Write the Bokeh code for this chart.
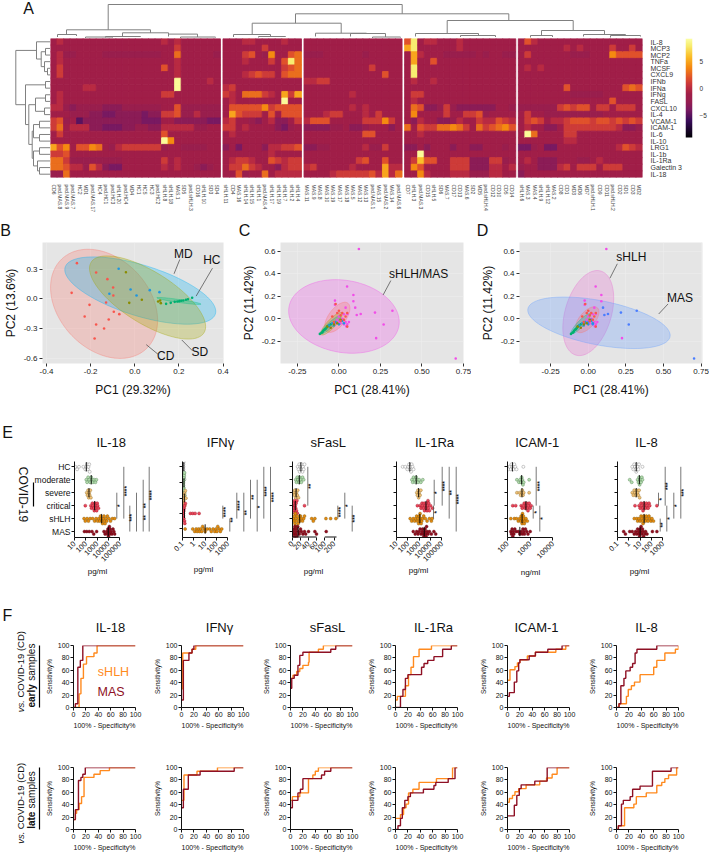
import numpy as np
from bokeh.plotting import figure
from bokeh.layouts import row, column
from bokeh.models import (Range1d, FixedTicker, LinearColorMapper, LinearScale)
from bokeh.core.properties import value
from bokeh.embed import file_html
from bokeh.resources import INLINE

FONT = "Liberation Sans"

# ---------------------------------------------------------------- A heatmap data
row_names = ["IL-8","MCP3","MCP2","TNFa","MCSF","CXCL9","IFNb","IFNa","IFNg","FASL","CXCL10","IL-4","VCAM-1",
             "ICAM-1","IL-6","IL-10","LRG1","IL-1b","IL-1Ra","Galectin 3","IL-18"]
cols_b1 = ["CD6","ped.MAS.8","ped.MAS.9","ped.MAS.7","HC2","MD1","ped.MAS.17","HC4","ped.HC1","ped.HC3","sHLH.20","ped.HC4","MD4",
           "HC1","HC5","HC3","ped.HC2","sHLH.8","sHLH.18","MAS.1","SD5","ped.sHLH.3","CD16","sHLH.10","SD3","SD4"]
cols_b2 = ["sHLH.11","CD4","MAS.16","sHLH.14","sHLH.15","sHLH.1","ped.MAS.4","sHLH.17","sHLH.19","sHLH.7","sHLH.2","sHLH.4"]
cols_b3 = ["MAS.11","MAS.9","MAS.8","MAS.10","MAS.19","MAS.17","MAS.18","MAS.5","MAS.12","MAS.13","ped.MAS.1","MAS.15","ped.MAS.2","MAS.14","ped.MAS.6"]
cols_b4 = ["CD7","sHLH.3","ped.MAS.3","CD15","sHLH.5","SD6","MAS.7","CD17","CD13","MAS.6","SD2","MD5","ped.sHLH.4","CD12","CD10","CD5","CD14"]
cols_b5 = ["sHLH.6","MAS.3","MAS.4","sHLH.9","sHLH.12","MAS.2","CD8","CD1","MD3","MD6","MD7","ped.sHLH.1","CD9","CD11","ped.sHLH.2","CD2","SD1","CD3","MD2"]
heat_base = -1
heat_b1 = {0:{1:0,17:0,19:0},1:{19:1},2:{1:0,2:-2,3:-2,8:-2,9:-2,10:-2,11:-2,12:-2,13:-2,14:-2,15:-2,16:-2,19:3,25:-2},
 3:{1:0,19:0},4:{1:1,17:2,19:0},5:{1:1,19:0},6:{19:9,24:0},7:{5:0,6:0,19:9},8:{1:0,17:1,18:1},9:{1:0},
 10:{0:0,1:0,2:-2,3:-3,4:-2,5:-2,6:-2,7:-2,8:-3,9:-3,10:-3,11:-2,12:-2,13:-2,14:-2,15:-2,16:-2,19:2,20:-2,21:-2,22:-2,23:-2,24:-2,25:-2},
 11:{3:-2,4:-2,5:-2,6:-3,7:-3,8:-4,9:-4,10:-3,11:-3,12:-3,13:-3,14:-4,15:-3,16:-3,17:1,18:1,19:2,20:-2,21:-2,22:0,23:-2,24:-2,25:-2},
 12:{0:1,1:2,2:-2,4:-5,5:-3,6:-3,7:-3,8:-3,9:-3,10:-3,11:-3,12:-3,13:-3,14:-4,15:-4,16:-4,19:-3,20:-3,21:-3,22:-3,23:-3,24:-4,25:-4},
 13:{0:1,1:3,3:0,4:0,5:0,6:-3,7:-3,8:-4,9:-4,10:-4,11:-3,12:-3,13:-2,14:-2,15:-3,16:-3,17:0,18:0,19:0,20:0,21:0,22:-2,23:-2},
 14:{1:1,17:2},15:{17:9,18:4},
 16:{0:5,1:2,2:4,4:2,5:2,6:4,7:3,9:-2,10:0,11:1,12:1,13:1,14:1,15:1,16:1,17:-2,20:-2,21:-2,22:-2,23:-2},
 17:{0:1,1:1,2:2},18:{0:3,1:3,2:1,3:-2,4:-2,5:-2,6:-2,7:-2,8:-2,9:-2,10:-2,17:1,19:0},
 19:{0:3,1:3,2:2,3:0,4:0,5:-2,6:2,7:0,8:-3,9:-4,10:-4,17:0,19:0,22:-2,23:-3,24:-2},
 20:{0:-2,1:-2,2:3}}
heat_b2 = {0:{3:0,4:0,9:0},1:{6:1},2:{3:1,4:2,6:-2,7:4,10:2,11:3},3:{3:0,7:1,9:2,10:8,11:3},4:{9:1,10:2,11:3},
 5:{3:0,4:1,5:2,6:1,7:1,9:2,10:3,11:3},7:{0:0,1:1},8:{0:1,1:0,3:3,4:3,5:3,6:1,7:0,9:5,10:1,11:5},9:{1:0,9:9},
 10:{1:2,2:2,3:2,4:2,5:2,6:4,7:1,8:2,9:2,10:2,11:2},11:{1:5,2:2,3:1,4:1,5:1,7:2,9:2,10:2,11:2},
 12:{0:0,1:1,4:-2,5:-3,7:0,8:-3,9:-3,11:1},13:{0:1,1:1,3:0,8:-3,9:-4,10:-2},14:{1:0},
 16:{0:-3,2:-4,6:-3,7:0,8:0,9:1,10:1,11:2},17:{7:0},18:{1:0,2:1,3:1,4:0,7:2,8:1,9:0,10:1,11:1},
 19:{1:1,2:1,3:3,4:1,5:0,8:-3,9:0,10:1,11:1},20:{2:2,3:-2,6:3,8:0,9:0,10:0,11:0}}
heat_b3 = {2:{0:-2,1:-2,2:-2,9:-2},4:{10:1},5:{12:2},6:{0:0,1:0,2:1,3:1},8:{7:0},10:{7:0,9:0},
 11:{3:0,4:1,5:1,9:0,11:1},12:{0:0,1:2,2:2,3:2,9:1,10:1,11:1,12:4,13:1},13:{0:-3,1:-3,2:-3,3:-3,4:-2,5:-2,7:-3,8:-3,9:-2,13:-3},
 14:{9:2,10:2},16:{0:-3,1:-3,2:-2,3:-2,9:0,10:-2,11:-2,12:1},18:{8:1,9:2,12:2},
 19:{0:0,1:1,7:0,12:5,13:0,14:0},20:{4:0,5:1,6:1,7:1,8:1,9:1,10:2,11:0,12:5,13:0,14:3}}
heat_b4 = {0:{0:2,1:8,3:0,4:0,8:0},1:{0:5,1:8,8:0},2:{1:5,2:0,6:-2,7:-2,8:-2,9:-2,10:-2,12:-2,15:-2,16:-2},3:{1:5,4:2},4:{1:8},5:{1:8},
 6:{1:0,4:0},8:{1:1,2:1},9:{1:0},10:{1:3,2:2,3:-3,4:-3,5:-2,6:1,7:-2,8:-3,9:-3,10:-3,11:-3,12:-3,13:-3,16:-2},
 11:{1:4,6:1,9:1,10:1,11:2,12:-2},12:{1:-3,2:0,5:-3,6:-3,7:-2,8:0,11:1,12:0,13:0,14:2,15:1,16:0},
 13:{0:3,2:2,3:1,4:1,5:3,6:3,7:4,8:3,9:1,11:3,12:1,13:2,14:3,15:4,16:2},14:{2:0},16:{0:-3,1:-3,3:-3,7:-3,10:-3,11:-3,15:-2},
 17:{2:9},18:{1:1,2:6,3:2,4:2,7:1,8:1,9:1,10:-3,11:-3,12:-3,13:1,14:1,15:-2},
 19:{1:4,2:2,7:1,8:1,9:1,10:-3,11:-3,12:-3,13:0,14:0,16:0},20:{2:4,3:0,7:0,8:0,9:0,10:-2,11:-2,12:-2,13:0,14:0}}
heat_b5 = {0:{1:2,2:0},1:{7:0,9:0,14:1,17:1},2:{1:1,8:-2,9:-2,10:-2,14:4,15:2,16:2,17:2,18:2},4:{1:0,3:0},7:{7:2,16:2,17:3,18:2},
 8:{8:-2,9:-2,10:-2,11:-2,12:-2},9:{14:2},10:{0:-2,1:-2,2:-2,3:-2,4:-2,5:-2,6:1,7:2,8:1,9:2,10:2,12:1,13:1,15:1,16:1,17:1},
 11:{1:1,4:-2,5:-2,6:-2,7:-2,8:-2,9:-2,10:-2,11:-2,12:-2},
 12:{1:1,2:2,3:1,5:0,6:0,7:1,8:2,9:2,10:2,11:1,12:2,13:2,14:1,15:2,16:1,17:2,18:1},
 13:{1:0,4:-3,5:-3,7:1,8:1,9:1,10:1,11:1,12:1,13:1,14:1,15:0,16:-3,17:-3,18:-2},14:{1:9,2:3,7:1,8:1},15:{7:0,8:0},
 16:{0:-4,1:-4,2:-2,4:-4,5:-4,15:0,16:2,17:1,18:0},18:{1:0,3:-3,4:-3,5:-3,9:-2,10:-2,12:0},
 19:{0:-2,3:-3,4:-3,5:-3,6:0,7:1,9:1,10:1,11:1,13:1,14:1,15:1},20:{0:-3}}

# dendrograms: [left x, right x, left child depth, right child depth, join depth]
dendro_top = [(107.7,401.7,29.3,13.3,4),(295,508.3,22.7,20,13.3),(251.7,340.7,34,32.7,22.7),(446.7,572.7,33,30,20),
 (541,604,35,34,30),(66,150,34,32.3,29.3),(57,76,36.5,35.5,34),(122,168,36,33.6,32.3),(105,140,37,36.5,36),(168,197,36,36.5,33.6),
 (233,270,36.5,36,34),(258,285,37,36.5,36),(315,366,36,33,32.7),(350,385,36,36.5,33),(415,478,36,35,33),(460,495,36.5,36.5,35),
 (530,552,37,36.5,35),(583,625,36,35,34),(610,640,37,36,35),(85,112,37.5,37,36.5),(180,215,37.5,37,36.5),(372,400,37.5,37,36.5)]
# left tree: [x, y top, y bottom, child x top, child x bottom]
dendro_left = [(47,4,5,50,50),(44,3,4.5,50,47),(45,1,2,50,50),(40.7,1.5,3.75,45,44),(36,0,2.6,50,40.7),(45,6,7,50,50),
 (45,8,9,50,50),(44,10,11,50,50),(35,8.5,10.5,45,44),(39,12,13,50,50),(39,14,15,50,50),(33,12.5,14.5,39,39),(39,16,17,50,50),
 (39,19,20,50,50),(37,18,19.5,50,39),(33,16.5,18.75,39,37),(31.7,13.5,17.6,33,33),(28.3,9.5,15.5,35,31.7),(25,6.5,12.5,45,28.3),(15.3,1.3,9.5,36,25)]

# ---------------------------------------------------------------- B-D PCA data
# ellipse: (centre x, centre y, half width, half height, correlation, colour)
ell_b = [(-0.139,-0.049,0.2425,0.55,-0.3,"#F8766D"),(0.025,0.085,0.342,0.339,-0.62,"#00B0F6"),
         (0.058,0.015,0.263,0.419,-0.7,"#A3A500"),(0.2,-0.02,0.1,0.035,-0.9,"#00BF7D")]
ell_c = [(0.03,0.02,0.333,0.327,-0.15,"#F14EE8"),(-0.01,0.012,0.076,0.134,0.6,"#F8766D"),
         (-0.045,-0.045,0.065,0.1,0.85,"#A3A500"),(-0.05,-0.054,0.06,0.08,0.92,"#00BF7D")]
ell_d = [(0.0,0.05,0.169,0.378,0.35,"#E76BD0"),(0.071,-0.036,0.473,0.229,-0.49,"#619CFF"),
         (-0.007,-0.009,0.078,0.115,0.6,"#F8766D"),(-0.05,-0.045,0.065,0.09,0.9,"#00BF7D")]
b_cd_x = [-0.262,-0.175,-0.124,-0.098,-0.097,-0.286,-0.205,-0.13,-0.227,-0.175,-0.118,-0.139,-0.182,-0.095,-0.07]
b_cd_y = [0.361,0.267,0.2,0.116,0.035,0.062,-0.059,-0.035,-0.176,-0.257,-0.206,-0.297,-0.398,-0.129,-0.153]
b_md_x = [-0.073,-0.115,-0.019,0.008,0.068,0.112]
b_md_y = [0.304,0.052,0.096,0.035,0.089,0.069]
b_sd_x = [-0.04,-0.025,0.032,0.106,0.115,0.118]
b_sd_y = [0.27,-0.039,-0.008,-0.025,-0.015,-0.042]
b_hc_x = [0.142,0.163,0.181,0.193,0.202,0.211,0.22,0.232,0.241,0.26]
b_hc_y = [-0.049,-0.039,-0.029,-0.025,-0.022,-0.018,-0.015,-0.008,-0.002,0.012]
shlh_x = [0.12,0.049,0.087,0.087,-0.024,-0.024,0.04,0.051,0.044,0.224,-0.05,-0.03,-0.02,-0.01,0.0,0.01,0.02,0.03,0.04,0.05,0.06]
shlh_y = [0.619,0.286,0.211,0.155,0.161,0.125,0.098,0.042,-0.068,-0.173,-0.08,-0.05,-0.03,-0.01,0.02,-0.04,0.0,0.04,-0.03,-0.05,-0.03]
mas_x = [0.098,0.107,0.131,0.217,0.322,0.269,0.703,-0.02,0.0,0.02,0.03]
mas_y = [0.098,0.033,0.042,0.054,0.071,-0.051,-0.354,-0.04,-0.03,-0.01,-0.05]
core_hc_x = [-0.115,-0.105,-0.1,-0.095,-0.09,-0.085,-0.08,-0.075,-0.07,-0.065,-0.06,-0.05]
core_hc_y = [-0.135,-0.125,-0.12,-0.11,-0.1,-0.095,-0.09,-0.08,-0.07,-0.065,-0.06,-0.05]
core_md_x = [-0.06,-0.04,-0.03,-0.02,0.0,0.02,0.03]
core_md_y = [-0.06,-0.04,-0.06,-0.03,-0.05,-0.02,-0.04]
core_sd_x = [-0.07,-0.05,-0.03,-0.01,0.01]
core_sd_y = [-0.07,-0.08,-0.05,-0.04,-0.01]
core_cd_x = [-0.04,-0.02,-0.01,0.0,0.01,0.02,0.03,0.04,0.05,0.05,0.01,-0.03]
core_cd_y = [0.02,0.13,0.05,0.07,0.03,0.05,-0.01,0.02,0.05,-0.07,-0.02,-0.03]

# ---------------------------------------------------------------- E swarm data (one list per group)
groups = ["HC","moderate","severe","critical","sHLH","MAS"]
il18 = [[12,17,25,60,90,110,130,150,170,200,220],[110,130,160,200,240,300,350,420,550,700,850],[120,140,160,180,200,220,250,280],
 [90,280,320,380,430,500,560,640,720,800,900,1000,1100,1300],
 [70,90,130,170,240,400,600,800,1100,1400,1700,2000,2300,2700,3000,3500,4000,4500,5000,6000,7000,8000,11000,15000,22000,35000],
 [75,120,200,350,500,900,4000,5000,7000,8000,9000,10000,11000,12000,13000,14000,15000,17000,20000,25000,30000,35000]]
ifng = [[0.12,0.12,0.13,0.13,0.14,0.14,0.15,0.15,0.12,0.13],[0.12,0.13,0.13,0.14,0.14,0.15,0.15,0.16,0.12,0.13],
 [0.12,0.13,0.14,0.15,0.16,0.18,0.2,0.14],[0.12,0.12,0.13,0.13,0.14,0.15,0.15,0.16,0.18,0.5,0.8,1.3,2.9],
 [0.17,0.8,1.2,1.6,2,2.6,3.2,4,5,6,8,10,15,25,35,50,70,90,110,130,170,220,290]]
sfasl = [[13,15,17,18,20,21,23,25,26,28,30],[8,10,12,14,16,18,20,22,25,28],[4,5,6,8,10,12,13,15],[1,2,3,4,5,6,7,8,9,10,11,12,30],
 [3,4,5,6,7,8,9,10,12,14,16,18,20,22,25,28,30,48,52,56,112,162,218],
 [2,3,4,5,6,7,8,9,10,11,13,15,17,20,22,26,30,33,40,56,60,115]]
il1ra = [[35,60,90,110,130,150,170,190,220,260,320],[230,270,320,400,480,550,650,800,1000,1400,2100],[620,700,800,900,1000,1200,1400],
 [700,1200,1500,1800,2000,2400,2800,3000,3500,4000,4500,5000,5500,6000,6500,7000,8000,10000,15000],
 [160,220,300,400,500,600,700,800,900,1000,1100,1200,1300,1500,1700,2000,2500,3500,5000,8000,12000,14000],
 [300,450,600,800,1000,1200,1500,1800,2000,2300,2600,3000,3300,3700,4000,4500,5000,6000,8000,12000,20000,29000]]
icam = [[100,110,125,140,150,165,180,200,220,250,500],[260,320,360,400,420,450,480,520,900],[260,340,380,420,450,480,520,900],
 [170,230,400,450,500,550,600,650,700,750,800,850,900,1000,1100],[140,200,250,300,340,380,400,420,440,460,480,500,520,550,600,650,750],
 [140,150,160,170,180,190,210,240,300,350,400,450,480,520,560,620,700,800,1000]]
il8 = [[2,2.5,3,3.5,4,4.5,5,6,7,8,16],[1.2,1.8,6,7,8,9,10,12,14,16],[2,2.5,3,3.5,4,5,6,7,8,9],
 [3.5,8,10,12,14,16,18,20,25,30,35,40,50,60,70,300],[3,5,6,8,10,12,14,16,18,20,25,30,35,40,50,60,70,90,110,150],
 [0.35,0.5,1.2,2,3,4,5,6,7,8,9,10,11,12,14,16,18,20,25,30,40,120,300]]
group_fill = ["#FFFFFF","#B5DDB0","#F2C27B","#E8475B","#E8890C","#8E0F1F"]
group_line = ["#777777","#4A7A4A","#8A6A20","#A01020","#7A5A10","#6A0A15"]
# brackets: (px right of the axis, from group, to group); stars: (px right of the axis, group position, text)
br_il18 = [(42.3,2,4),(49.3,0,4),(55.3,3,5),(62,2,5),(68.7,1,5),(74.7,0,5)]
st_il18 = [(45,3,"*"),(52,1.88,"****"),(57.3,3.94,"***"),(70.5,3,"**"),(70.5,3.94,"**"),(77,2.2,"****")]
br_ifng = [(40.3,3,4),(47.3,4,5),(54.3,2,4),(61.3,2,5),(68,1,4),(74.7,1,5),(81.3,0,4),(88,0,5)]
st_ifng = [(43,3.5,"****"),(50,4.1,"**"),(57,3,"****"),(64,3.55,"**"),(71,2.35,"**"),(77.4,3.1,"*"),(84,1.9,"****"),(90.7,2.35,"****")]
br_sfasl = [(15.3,0,3),(45.3,3,4),(52.3,2,4),(59.7,3,5)]
st_sfasl = [(18,1.5,"**"),(48,3.5,"****"),(55,3,"*"),(62,4,"***")]
br_il1ra = [(37.7,1,3),(37,3,4),(45.7,0,3),(52.7,0,4),(59.7,0,5)]
st_il1ra = [(40,2,"*"),(39.5,3.5,"*"),(48.2,1.5,"****"),(55.2,2,"**"),(62,2.5,"****")]
br_icam = [(25.7,3,4),(28.7,0,3),(32.3,3,5)]
st_icam = [(28.5,3.5,"*"),(32,1.5,"****"),(35,4,"*")]
br_il8 = [(41,2,3),(42.7,4,5),(47.7,0,3),(49.3,3,5),(56.3,2,4),(63.3,0,4)]
st_il8 = [(43.5,2.5,"*"),(45.2,4.5,"**"),(50.2,1.5,"***"),(51.8,4,"*"),(58.8,3,"*"),(65.8,2,"***")]

# ---------------------------------------------------------------- F ROC data (x where the curve rises, new level)
panel_names = ["IL-18","IFN\u03b3","sFasL","IL-1Ra","ICAM-1","IL-8"]
roc_early_x_shlh = [[0,9,12,16,21,33,38,100],[0,2,17,23,100],[0,4,10,15,20,29,30,45,53,100],[0,3,16,21,25,29,38,58,100],
 [0,4,12,16,20,32,45,78,94,100],[0,4,16,19,24,29,38,60,65,78,95,100]]
roc_early_y_shlh = [[0,22,47,70,82,88,100,100],[30,88,94,100,100],[47,52,58,63,68,73,89,94,100,100],[12,18,35,53,65,82,94,100,100],
 [44,61,66,72,77,83,89,94,100,100],[0,6,18,29,35,41,53,65,76,88,94,100]]
roc_early_x_mas = [[0,3,7,11,15,100],[0,3,12,17,20,100],[0,2,6,12,15,20,65,73,100],[0,8,12,16,20,42,46,52,62,76,90,100],
 [0,3,11,15,18,20,35,45,65,88,100],[0,4,7,12,15,22,26,30,33,65,100]]
roc_early_y_mas = [[0,6,65,76,100,100],[12,76,88,94,100,100],[31,47,52,68,84,89,94,100,100],[0,18,29,47,53,65,71,76,82,94,100,100],
 [18,24,41,59,72,77,83,89,94,100,100],[0,6,35,47,59,65,71,88,94,100,100]]
roc_late_x_shlh = [[0,3,5,9,13,17,33,43,58,100],[0,4,25,58,100],[0,3,15,29,36,40,45,100],[0,8,13,17,21,28,38,66,92,100],
 [0,3,8,12,18,30,52,63,72,80,100],[0,3,13,28,32,48,65,73,78,84,97,100]]
roc_late_y_shlh = [[16,26,32,42,53,84,89,95,100,100],[47,88,94,100,100],[47,53,59,82,88,94,100,100],[18,24,35,41,59,65,76,82,100,100],
 [44,50,55,61,66,72,78,83,89,100,100],[0,6,35,41,53,59,71,76,82,88,100,100]]
roc_late_x_mas = [[0,3,8,12,15,19,100],[0,3,11,30,85,100],[0,3,12,16,20,50,55,65,100],[0,4,8,11,15,20,24,45,62,65,85,96,100],
 [0,11,15,19,22,44,64,100],[0,3,8,11,22,26,38,58,88,100]]
roc_late_y_mas = [[16,32,79,84,89,100,100],[35,65,88,94,100,100],[35,47,59,65,82,88,94,100,100],[0,6,18,35,47,53,59,65,71,76,82,100,100],
 [22,39,55,66,72,78,100,100],[0,6,41,47,53,65,70,94,100,100]]
ORANGE, DARKRED = "#FF8A1E", "#8E1024"

# ---------------------------------------------------------------- helpers
def make(w, h, left, right, top, bottom, **kw):
    p = figure(width=w, height=h, output_backend="svg", toolbar_location=None, min_border_left=left, min_border_right=right,
               min_border_top=top, min_border_bottom=bottom, background_fill_color="white", border_fill_color="white", **kw)
    p.outline_line_color = None
    p.xgrid.visible = False
    p.ygrid.visible = False
    return p

# a transparent sheet laid over the whole page carries the texts that sit outside the plot frames
ov = make(709, 857, 0, 0, 0, 0, x_range=Range1d(0, 709), y_range=Range1d(857, 0), x_axis_location=None, y_axis_location=None)
ov.background_fill_color = None
ov.border_fill_color = None

def lab(x, y, text, size, color="#111111", align="center", angle=0, style="normal"):
    ov.text([x], [y], text=[text], text_font=value(FONT), text_font_size=f"{size}px", text_color=color, text_align=align,
            text_baseline="middle", angle=angle, text_font_style=style)

def vbar(x, y0, y1):
    ov.line([x, x], [y0, y1], line_color="black", line_width=1.2)

# ---------------------------------------------------------------- A
colw, gap = 20, 8
blocks = [cols_b1, cols_b2, cols_b3, cols_b4, cols_b5]
hblocks = [heat_b1, heat_b2, heat_b3, heat_b4, heat_b5]
xs, ys, vs, tick_pos, tick_txt = [], [], [], [], []
off = 0
for names, sparse in zip(blocks, hblocks):
    for c, nm in enumerate(names):
        cx = off + c * colw + colw // 2
        tick_pos.append(cx)
        tick_txt.append(nm)
        for r in range(len(row_names)):
            xs.append(cx); ys.append(r); vs.append(sparse.get(r, {}).get(c, heat_base))
    off += len(names) * colw + gap
heat_w = off - gap

low, high = -9.1, 9.3
stops_v = [-9.1, -6, -4, -2.5, -1, 0.5, 2, 4, 6, 8, 9.3]
stops_c = ["#000004", "#3A0C5A", "#7A1A62", "#961E50", "#A11F48", "#C4313F", "#E0512C", "#F58A10", "#FBBF2A", "#F8EE70", "#FCFFA4"]
rgb = np.array([[int(c[i:i + 2], 16) for i in (1, 3, 5)] for c in stops_c])
grid = np.linspace(low, high, 256)
palette = ["#%02x%02x%02x" % tuple(int(np.interp(g, stops_v, rgb[:, k])) for k in range(3)) for g in grid]
mapper = LinearColorMapper(palette=palette, low=low, high=high)

pt = make(709, 38, 50, 61, 0, 0, x_range=Range1d(50, 648), y_range=Range1d(38, 0), x_axis_location=None, y_axis_location=None)
for xl, xr, yl, yr, y in dendro_top:
    pt.line([xl, xl, xr, xr], [yl, y, y, yr], line_color="#808080", line_width=1)
lab(28, 8, "A", 16)

pl = make(50, 177, 0, 0, 0, 38, x_range=Range1d(0, 50), y_range=Range1d(20.5, -0.5), x_axis_location=None, y_axis_location=None)
for x, y0, y1, cx0, cx1 in dendro_left:
    pl.line([cx0, x, x, cx1], [y0, y0, y1, y1], line_color="#808080", line_width=1)

ph = make(635, 177, 0, 37, 0, 38, x_range=Range1d(0, heat_w), y_range=Range1d(20.5, -0.5), x_axis_location="below", y_axis_location="right")
src = dict(x=xs, y=ys, v=vs)
ph.rect("x", "y", width=colw, height=1, source=src, fill_color={"field": "v", "transform": mapper},
        line_color={"field": "v", "transform": mapper}, line_width=0.9)
ax = ph.xaxis[0]
ax.ticker = FixedTicker(ticks=tick_pos)
ax.major_label_overrides = dict(zip(tick_pos, tick_txt))
ax.major_label_orientation = -np.pi / 2
ax.major_label_text_font = FONT
ax.major_label_text_font_size = "5px"
ax.major_label_text_color = "#444444"
ax.major_label_standoff = 1
ax.major_tick_line_color = None
ax.minor_tick_line_color = None
ax.axis_line_color = None
ay = ph.yaxis[0]
ay.ticker = FixedTicker(ticks=list(range(len(row_names))))
ay.major_label_overrides = dict(enumerate(row_names))
ay.major_label_text_font = FONT
ay.major_label_text_font_size = "7px"
ay.major_label_text_color = "#333333"
ay.major_label_standoff = 2
ay.major_tick_line_color = None
ay.minor_tick_line_color = None
ay.axis_line_color = None

# the colour bar fills only the upper part of its frame, so that frames line up across the row
cbar_pad = 40 / (99 / (high - low))
pc = make(24, 177, 0, 17, 0, 38, x_range=Range1d(0, 1), y_range=Range1d(low - cbar_pad, high), x_axis_location=None, y_axis_location="right")
pc.image(image=[grid.reshape(256, 1)], x=0, y=low, dw=1, dh=high - low, color_mapper=mapper)
a = pc.yaxis[0]
a.ticker = FixedTicker(ticks=[-5, 0, 5])
a.major_label_text_font = FONT
a.major_label_text_font_size = "6.5px"
a.major_label_text_color = "#333333"
a.major_label_standoff = 1
a.major_tick_line_color = None
a.minor_tick_line_color = None
a.axis_line_color = None

row_top = row(pl, ph, pc)

# ---------------------------------------------------------------- B-D
def pca_fig(w, left, right, xr, yr, xticks, yticks, xname, yname, xlabels):
    p = make(w, 186, left, right, 27, 38, x_range=Range1d(*xr), y_range=Range1d(*yr))
    p.background_fill_color = "#E5E5E5"
    p.xgrid.visible = True
    p.ygrid.visible = True
    p.xgrid.ticker = FixedTicker(ticks=xticks)
    p.ygrid.ticker = FixedTicker(ticks=yticks)
    p.xgrid.grid_line_color = "#EDEDED"
    p.ygrid.grid_line_color = "#EDEDED"
    p.xgrid.grid_line_width = 0.6
    p.ygrid.grid_line_width = 0.6
    for ax_, ticks, nm in ((p.xaxis[0], xticks, xname), (p.yaxis[0], yticks, yname)):
        ax_.ticker = FixedTicker(ticks=ticks)
        ax_.axis_label = nm
        ax_.axis_label_text_font = FONT
        ax_.axis_label_text_font_style = "normal"
        ax_.axis_label_text_font_size = "12px"
        ax_.axis_label_text_color = "#111111"
        ax_.major_label_text_font = FONT
        ax_.major_label_text_font_size = "8px"
        ax_.major_label_text_color = "#222222"
        ax_.major_label_standoff = 2
        ax_.axis_line_color = None
        ax_.major_tick_line_color = "#333333"
        ax_.major_tick_out = 3
        ax_.major_tick_in = 0
        ax_.minor_tick_line_color = None
    p.xaxis[0].axis_label_standoff = 6
    p.yaxis[0].axis_label_standoff = 3
    p.xaxis[0].major_label_overrides = xlabels
    p.yaxis[0].major_label_overrides = {t: f"{t:.1f}" for t in yticks}
    return p

def draw_ellipses(p, ells):
    t = np.linspace(0, 2 * np.pi, 120)
    for cx, cy, rx, ry, rho, col in ells:
        p.patch(cx + rx * np.cos(t), cy + ry * (rho * np.cos(t) + np.sqrt(1 - rho ** 2) * np.sin(t)),
                fill_color=col, fill_alpha=0.28, line_color=col, line_alpha=0.45, line_width=0.8)

def pts(p, x, y, col):
    p.scatter(x, y, size=2.6, fill_color=col, line_color=None)

def annotate(p, names):
    for tx, ty, txt, x0, y0, x1, y1 in names:
        p.text([tx], [ty], text=[txt], text_font=value(FONT), text_font_size="12px", text_align="center", text_baseline="middle", text_color="#111111")
        p.line([x0, x1], [y0, y1], line_color="#444444", line_width=0.7)

tb = [-0.4, -0.2, 0.0, 0.2, 0.4]
pb = pca_fig(232, 41, 9, (-0.418, 0.402), (-0.65, 0.569), tb, [-0.6, -0.3, 0.0, 0.3], "PC1 (29.32%)", "PC2 (13.6%)", {t: f"{t:.1f}" for t in tb})
draw_ellipses(pb, ell_b)
pts(pb, b_cd_x, b_cd_y, "#F8564D"); pts(pb, b_md_x, b_md_y, "#1E96E0"); pts(pb, b_sd_x, b_sd_y, "#8A8C00"); pts(pb, b_hc_x, b_hc_y, "#00B070")
annotate(pb, [(0.22, 0.455, "MD", 0.204, 0.398, 0.178, 0.254), (0.349, 0.388, "HC", 0.352, 0.31, 0.278, 0.029),
              (0.295, -0.532, "SD", 0.262, -0.523, 0.213, -0.413), (0.14, -0.575, "CD", 0.106, -0.558, 0.052, -0.46)])
lab(5, 230, "B", 16)

tc = [-0.25, 0.0, 0.25, 0.5, 0.75]
ycd = [-0.2, 0.0, 0.2, 0.4, 0.6]
pcc = pca_fig(239, 48, 8, (-0.352, 0.75), (-0.398, 0.677), tc, ycd, "PC1 (28.41%)", "PC2 (11.42%)", {t: f"{t:.2f}" for t in tc})
draw_ellipses(pcc, ell_c)
pts(pcc, shlh_x + mas_x, shlh_y + mas_y, "#F14EE8")
pts(pcc, core_hc_x, core_hc_y, "#00B070"); pts(pcc, core_md_x, core_md_y, "#1E96E0"); pts(pcc, core_sd_x, core_sd_y, "#8A8C00"); pts(pcc, core_cd_x, core_cd_y, "#F8564D")
annotate(pcc, [(0.48, 0.393, "sHLH/MAS", 0.3125, 0.339, 0.266, 0.211)])
lab(244, 230, "C", 16)

pd_ = pca_fig(238, 48, 7, (-0.457, 0.759), (-0.398, 0.677), tc, ycd, "PC1 (28.41%)", "PC2 (11.42%)", {t: f"{t:.2f}" for t in tc})
draw_ellipses(pd_, ell_d)
pts(pd_, shlh_x, shlh_y, "#F14EE8"); pts(pd_, mas_x, mas_y, "#4A7DFF")
pts(pd_, core_hc_x, core_hc_y, "#00B070"); pts(pd_, core_md_x, core_md_y, "#1E96E0"); pts(pd_, core_sd_x, core_sd_y, "#8A8C00"); pts(pd_, core_cd_x, core_cd_y, "#F8564D")
annotate(pd_, [(0.286, 0.548, "sHLH", 0.193, 0.488, 0.144, 0.36), (0.61, 0.182, "MAS", 0.53, 0.131, 0.468, 0.042)])
lab(482, 230, "D", 16)

row_pca = row(pb, pcc, pd_)

# ---------------------------------------------------------------- E
CAT_PX = 12.94
def swarm(px_vals, d=2.5):
    placed, offs = [], []
    for v in px_vals:
        k = 0
        while True:
            o = ((k + 1) // 2) * d * (1 if k % 2 else -1)
            if all((v - pv) ** 2 + (o - po) ** 2 >= (d * 0.82) ** 2 for pv, po in placed):
                break
            k += 1
        placed.append((v, o)); offs.append(o)
    return offs

def swarm_fig(w, left, frame_w, right, data, brs, stars, name, unit, unit_xy, title_x, ticks=None, pxdec=None, x0=None,
              piecewise=None, cat_pos=None, tick_txt=None, show_labels=False):
    if piecewise is None:
        xr = Range1d(x0, x0 * 10 ** (frame_w / pxdec))
        p = make(w, 199, left, right, 60, 63, x_axis_type="log", x_range=xr, y_range=Range1d(5.46, -0.41))
        tox = lambda v: np.log10(np.asarray(v, float) / x0) * pxdec
    else:
        p = make(w, 199, left, right, 60, 63, x_range=Range1d(0, frame_w), y_range=Range1d(5.46, -0.41))
        tox = lambda v: np.interp(v, piecewise[0], piecewise[1])
    p.extra_x_ranges["px"] = Range1d(0, frame_w)
    p.extra_x_scales["px"] = LinearScale()
    cat_pos = cat_pos or list(range(6))
    for i, vals in enumerate(data):
        vals = sorted(vals)
        o = swarm(list(tox(vals)))
        yy = [cat_pos[i] + q / CAT_PX for q in o]
        gi = i if len(data) == 6 or i < 4 else 4
        xx = vals if piecewise is None else list(tox(vals))
        p.scatter(xx, yy, size=3, fill_color=group_fill[gi], line_color=group_line[gi], line_width=0.4)
        m = float(np.median(vals))
        mx = m if piecewise is None else float(tox(m))
        p.segment([mx], [cat_pos[i] - 0.36], [mx], [cat_pos[i] + 0.36], line_color="black", line_width=0.9)
    p.segment([b[0] for b in brs], [b[1] for b in brs], [b[0] for b in brs], [b[2] for b in brs],
              line_color="#555555", line_width=0.8, x_range_name="px")
    p.text([s[0] for s in stars], [s[1] for s in stars], text=[s[2] for s in stars], angle=np.pi / 2, text_font=value(FONT),
           text_font_size="6.5px", text_font_style="bold", text_align="center", text_baseline="middle", text_color="#111111", x_range_name="px")
    ax_ = p.xaxis[0]
    ax_.ticker = FixedTicker(ticks=ticks)
    ax_.major_label_overrides = dict(zip(ticks, tick_txt))
    ax_.major_label_orientation = np.pi / 4
    ax_.major_label_text_font = FONT
    ax_.major_label_text_font_size = "7.5px"
    ax_.major_label_text_color = "#111111"
    ax_.major_label_standoff = 2
    ax_.major_tick_out = 3
    ax_.major_tick_in = 0
    ax_.minor_tick_line_color = None
    ax_.axis_line_color = "#111111"
    ax_.major_tick_line_color = "#111111"
    ax_.bounds = (ticks[0], ticks[-1])
    ay_ = p.yaxis[0]
    ay_.ticker = FixedTicker(ticks=cat_pos)
    if show_labels:
        ay_.major_label_overrides = dict(enumerate(groups))
        ay_.major_label_text_font = FONT
        ay_.major_label_text_font_size = "8.5px"
        ay_.major_label_text_color = "#111111"
        ay_.major_label_standoff = 1
    else:
        ay_.major_label_overrides = {t: "" for t in cat_pos}
    ay_.major_tick_out = 3
    ay_.major_tick_in = 0
    ay_.minor_tick_line_color = None
    ay_.axis_line_color = "#111111"
    ay_.major_tick_line_color = "#111111"
    lab(title_x, 441.5, name, 13)
    lab(unit_xy[0], unit_xy[1], unit, 8)
    return p

pe1 = swarm_fig(155, 74, 81, 0, il18, br_il18, st_il18, "IL-18", "pg/ml", (97, 570.5), 110.7, ticks=[10, 100, 1000, 10000, 100000],
                tick_txt=["10", "100", "1000", "10000", "100000"], pxdec=11.33, x0=10, show_labels=True)
pe2 = swarm_fig(123, 27, 96, 0, ifng, br_ifng, st_ifng, "IFN\u03b3", "pg/ml", (203, 569), 220, ticks=[0.1, 1, 10, 100, 1000],
                tick_txt=["0.1", "1", "10", "100", "1000"], pxdec=11.33, x0=0.1, cat_pos=[0, 1.24, 2.42, 3.6, 4.8])
sf_v = [0, 60, 100, 250]
sf_px = [0, 24, 32.3, 46.4]
sf_ticks = [float(np.interp(t, sf_v, sf_px)) for t in [0, 20, 40, 60, 100, 200]]
pe3 = swarm_fig(82, 14, 68, 0, sfasl, br_sfasl, st_sfasl, "sFasL", "pg/ml", (313, 571), 327.7, ticks=sf_ticks,
                tick_txt=["0", "20", "40", "60", "100", "200"], piecewise=(sf_v, sf_px))
pe3.xaxis[0].axis_line_color = None
pe3.segment([0, 32.3], [5.46, 5.46], [24, 44], [5.46, 5.46], line_color="#111111", line_width=2)
pe4 = swarm_fig(102, 36, 66, 0, il1ra, br_il1ra, st_il1ra, "IL-1Ra", "pg/ml", (418, 570), 434, ticks=[10, 100, 1000, 10000, 100000],
                tick_txt=["10", "100", "1000", "10000", "100000"], pxdec=11.33, x0=10)
pe5 = swarm_fig(93, 45, 48, 0, icam, br_icam, st_icam, "ICAM-1", "ng/ml", (530, 572), 536.7, ticks=[100, 1000, 10000],
                tick_txt=["100", "1000", "10000"], pxdec=22.67, x0=100)
pe6 = swarm_fig(154, 62, 73, 19, il8, br_il8, st_il8, "IL-8", "pg/ml", (639, 571), 646, ticks=[0.1, 1, 10, 100, 1000],
                tick_txt=["0.1", "1", "10", "100", "1000"], pxdec=11.33, x0=0.1)
lab(7, 432, "E", 16)
lab(22.7, 494, "COVID-19", 12, angle=-np.pi / 2)
vbar(33, 482, 506)
row_e = row(pe1, pe2, pe3, pe4, pe5, pe6)

# ---------------------------------------------------------------- F
roc_layout = [(73, 8), (38, 9), (38, 9), (34, 9), (41, 9), (38, 31)]
def roc_fig(i, h, top, bottom, xs1, ys1, xs2, ys2):
    left, right = roc_layout[i]
    p = make(left + 62 + right, h, left, right, top, bottom, x_range=Range1d(0, 100), y_range=Range1d(0, 100))
    p.step(xs1, ys1, mode="after", line_color=ORANGE, line_width=1.4)
    p.step(xs2, ys2, mode="after", line_color=DARKRED, line_width=1.4)
    for ax_ in (p.xaxis[0], p.yaxis[0]):
        ax_.ticker = FixedTicker(ticks=[0, 20, 40, 60, 80, 100])
        ax_.major_label_text_font = FONT
        ax_.major_label_text_font_size = "7px"
        ax_.major_label_text_color = "#111111"
        ax_.major_label_standoff = 1
        ax_.major_tick_out = 3
        ax_.major_tick_in = 0
        ax_.minor_tick_line_color = None
        ax_.axis_line_color = "#111111"
        ax_.major_tick_line_color = "#111111"
        ax_.axis_label_text_font = FONT
        ax_.axis_label_text_font_style = "normal"
        ax_.axis_label_text_color = "#111111"
    p.xaxis[0].axis_label = "100% - Specificity%"
    p.xaxis[0].axis_label_text_font_size = "7px"
    p.xaxis[0].axis_label_standoff = 2
    p.yaxis[0].axis_label = "Sensitivity%"
    p.yaxis[0].axis_label_text_font_size = "6.5px"
    p.yaxis[0].axis_label_standoff = 2
    return p

early, late = [], []
title_x = [110, 219, 327, 433, 536, 646]
for i in range(6):
    early.append(roc_fig(i, 145, 45, 38, roc_early_x_shlh[i], roc_early_y_shlh[i], roc_early_x_mas[i], roc_early_y_mas[i]))
    lab(title_x[i], 627, panel_names[i], 13)
    late.append(roc_fig(i, 112, 22, 28, roc_late_x_shlh[i], roc_late_y_shlh[i], roc_late_x_mas[i], roc_late_y_mas[i]))
e0 = early[0]
e0.text([64.5, 60.7], [56.5, 25], text=["sHLH", "MAS"], text_color=[ORANGE, DARKRED], text_font=value(FONT), text_font_size="12.5px",
        text_align="center", text_baseline="middle")
lab(7, 615, "F", 16)
lab(20, 711.7, "vs.", 9.5, align="left", angle=np.pi / 2, style="italic")
lab(20, 697, "COVID-19 (CD)", 9.5, align="left", angle=np.pi / 2)
lab(30.7, 707, "early", 10, align="left", angle=np.pi / 2, style="bold")
lab(30.7, 680.3, "samples", 10, align="left", angle=np.pi / 2)
vbar(39, 645, 707)
lab(20, 843.3, "vs.", 9.5, align="left", angle=np.pi / 2, style="italic")
lab(20, 828.8, "COVID-19 (CD)", 9.5, align="left", angle=np.pi / 2)
lab(30.7, 828.3, "late", 10, align="left", angle=np.pi / 2, style="bold")
lab(30.7, 808, "samples", 10, align="left", angle=np.pi / 2)
vbar(39, 767, 829)

ov.margin = (-857, 0, 0, 0)
page = column(row(pt), row_top, row_pca, row_e, row(*early), row(*late), row(ov))
open("out.html", "w").write(file_html(page, INLINE))
